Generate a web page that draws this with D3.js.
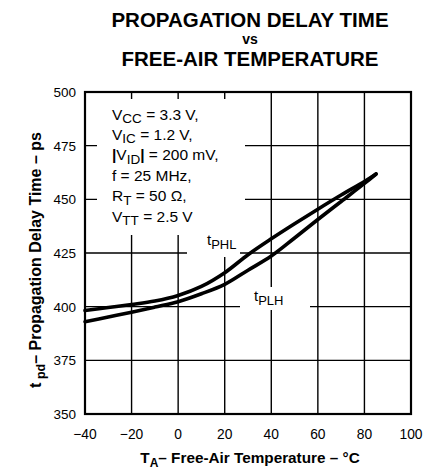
<!DOCTYPE html>
<html>
<head>
<meta charset="utf-8">
<script src="https://cdn.jsdelivr.net/npm/d3@7"></script>
<style>
  html, body { margin: 0; padding: 0; background: #fff; }
  svg { display: block; font-family: "Liberation Sans", Arial, Helvetica, sans-serif; }
</style>
</head>
<body>
<svg id="chart" width="448" height="472"></svg>
<script>
// Free-air temperature (°C) sample points
const temps = [-40, -30, -20, -10, 0, 10, 20, 30, 40, 50, 60, 70, 80, 85];
// High-to-low propagation delay (ps)
const tPHL = [398.2, 399.6, 401.0, 402.6, 405.2, 409.4, 415.8, 424.2, 431.6, 438.6, 445.4, 452.0, 458.3, 461.8];
// Low-to-high propagation delay (ps)
const tPLH = [393.0, 395.2, 397.4, 399.8, 402.3, 406.0, 410.4, 417.0, 423.6, 432.0, 440.6, 449.0, 457.4, 461.8];

const xTicks = [-40, -20, 0, 20, 40, 60, 80, 100];
const yTicks = [350, 375, 400, 425, 450, 475, 500];

const svg = d3.select("#chart");
const L = 85, R = 411, T = 92, B = 414;

const x = d3.scaleLinear().domain([-40, 100]).range([L, R]);
const y = d3.scaleLinear().domain([350, 500]).range([B, T]);

// Title
const title = svg.append("g").attr("font-weight", "bold").attr("text-anchor", "middle").attr("fill", "#000");
title.append("text").attr("x", 250).attr("y", 27).attr("font-size", 20.5).text("PROPAGATION DELAY TIME");
title.append("text").attr("x", 250).attr("y", 44.2).attr("font-size", 14).text("vs");
title.append("text").attr("x", 250).attr("y", 66).attr("font-size", 20.5).text("FREE-AIR TEMPERATURE");

// Grid
const grid = svg.append("g").attr("stroke", "#000").attr("stroke-width", 1.4);
grid.selectAll("line.v").data(xTicks.slice(1, -1)).join("line")
  .attr("x1", d => x(d)).attr("x2", d => x(d)).attr("y1", T).attr("y2", B);
grid.selectAll("line.h").data(yTicks.slice(1, -1)).join("line")
  .attr("y1", d => y(d)).attr("y2", d => y(d)).attr("x1", L).attr("x2", R);

// Blank panels behind the conditions block and curve labels
const boxes = svg.append("g").attr("fill", "#fff");
boxes.append("rect").attr("x", 97).attr("y", 99).attr("width", 148).attr("height", 136);
boxes.append("rect").attr("x", 187).attr("y", 233).attr("width", 53).attr("height", 24);
boxes.append("rect").attr("x", 240).attr("y", 287).attr("width", 70).attr("height", 23);

// Curves
const line = d3.line().x((d, i) => x(temps[i])).y(d => y(d)).curve(d3.curveCatmullRom.alpha(0.5));
[tPHL, tPLH].forEach(s => {
  svg.append("path").datum(s).attr("d", line)
    .attr("fill", "none").attr("stroke", "#000").attr("stroke-width", 3.6)
    .attr("stroke-linecap", "round").attr("stroke-linejoin", "round");
});

// Frame
svg.append("rect").attr("x", L).attr("y", T).attr("width", R - L).attr("height", B - T)
  .attr("fill", "none").attr("stroke", "#000").attr("stroke-width", 2.2);

// Tick labels
svg.append("g").attr("font-size", 13.8).attr("text-anchor", "middle")
  .selectAll("text").data(xTicks).join("text")
  .attr("x", d => x(d)).attr("y", 438.5)
  .text(d => d < 0 ? "\u2212" + Math.abs(d) : d);
svg.append("g").attr("font-size", 13.5).attr("text-anchor", "end")
  .selectAll("text").data(yTicks).join("text")
  .attr("x", 76).attr("y", d => y(d) + 5)
  .text(d => d);

// Conditions block
const cond = [
  ["V", "CC", " = 3.3 V,"],
  ["V", "IC", " = 1.2 V,"],
  ["V", "ID", "  = 200 mV,"],
  ["f = 25 MHz,", "", ""],
  ["R", "T", " = 50 \u03A9,"],
  ["V", "TT", " = 2.5 V"]
];
const cg = svg.append("g").attr("font-size", 15.5);
cond.forEach((c, i) => {
  const t = cg.append("text").attr("x", 112).attr("y", 119.5 + i * 20.4);
  if (i === 2) t.append("tspan").attr("font-weight", "bold").text("|");
  t.append("tspan").text(c[0]);
  if (c[1]) {
    t.append("tspan").attr("dy", 3.5).attr("font-size", 13.5).text(c[1]);
    if (i === 2) {
      t.append("tspan").attr("dy", -3.5).attr("font-weight", "bold").text("|");
      t.append("tspan").text(c[2]);
    } else {
      t.append("tspan").attr("dy", -3.5).text(c[2]);
    }
  }
});

// Curve labels
function subLabel(px, py, main, sub) {
  const t = svg.append("text").attr("x", px).attr("y", py).attr("font-size", 15);
  t.append("tspan").text(main);
  t.append("tspan").attr("dy", 4).attr("font-size", 13).text(sub);
}
subLabel(207, 245, "t", "PHL");
subLabel(254, 301, "t", "PLH");

// Axis titles
const xt = svg.append("text").attr("x", 250).attr("y", 463).attr("text-anchor", "middle")
  .attr("font-weight", "bold").attr("font-size", 15.3);
xt.append("tspan").text("T");
xt.append("tspan").attr("dy", 4).attr("font-size", 12).text("A");
xt.append("tspan").attr("dy", -4).text("\u2013 Free-Air Temperature \u2013 \u00B0C");

const yt = svg.append("text").attr("transform", "translate(41,260) rotate(-90)")
  .attr("text-anchor", "middle").attr("font-weight", "bold").attr("font-size", 16);
yt.append("tspan").text("t");
yt.append("tspan").attr("dy", 4).attr("font-size", 12.5).text(" pd");
yt.append("tspan").attr("dy", -4).text("\u2013 Propagation Delay Time \u2013 ps");
</script>
</body>
</html>
